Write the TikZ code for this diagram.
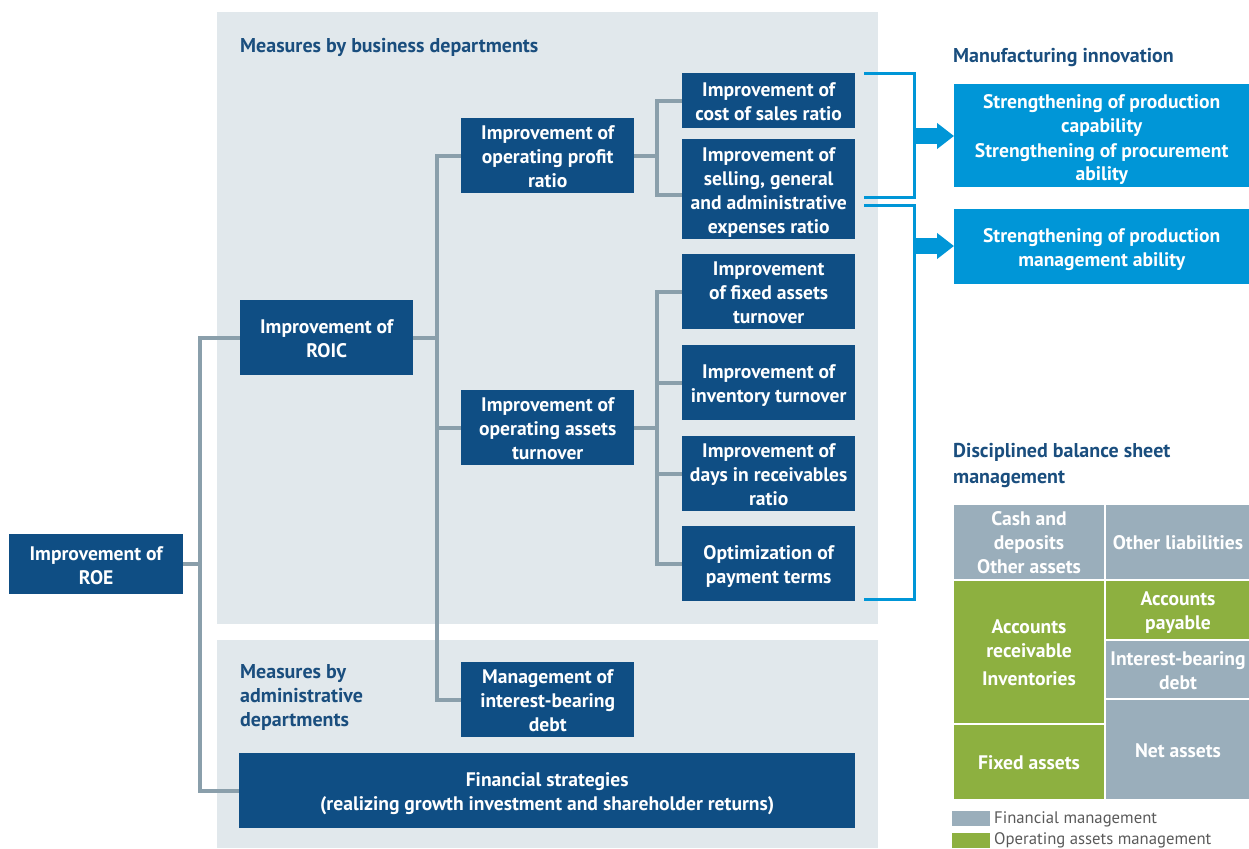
\documentclass[tikz,border=0pt]{standalone}
\usepackage{fontspec}
\setmainfont{PT Sans}
\usetikzlibrary{arrows.meta,calc}

\definecolor{panel}{HTML}{E1E8EC}
\definecolor{navy}{HTML}{0F4E84}
\definecolor{headblue}{HTML}{1A4E7E}
\definecolor{linkgrey}{HTML}{8A9FAB}
\definecolor{brightblue}{HTML}{0096D7}
\definecolor{fincell}{HTML}{9AAEBB}
\definecolor{opcell}{HTML}{8DB040}
\definecolor{legendtext}{HTML}{5A5A5A}

\newcommand{\boxfont}{\bfseries\fontsize{19.6}{24}\selectfont}
% centred lines, set slightly below the optical middle of their box
\newcommand{\lines}[2][3pt]{\raisebox{-#1}[\height][\depth]{%
  \begin{tabular}{@{}c@{}}#2\end{tabular}}}

\tikzset{
  box/.style={fill=navy, text=white, font=\boxfont,
    inner sep=0pt, anchor=north west},
  bluebox/.style={box, fill=brightblue},
  heading/.style={text=headblue, font=\bfseries\fontsize{20}{26}\selectfont,
    align=left, inner sep=0pt},
  conn/.style={draw=linkgrey, line width=4pt},
  bracket/.style={draw=brightblue, line width=3pt},
  bigarrow/.style={draw=brightblue, line width=16pt,
    -{Triangle[length=17pt,width=25pt]}},
  cell/.style={draw=white, line width=2pt, inner sep=0pt, anchor=north west,
    text=white, font=\boxfont},
  legendlabel/.style={text=legendtext, font=\fontsize{16.7}{20}\selectfont,
    anchor=west, inner sep=0pt}
}

\begin{document}
\begin{tikzpicture}[x=1pt,y=-1pt]
\useasboundingbox (0,0) rectangle (1249,848);

% background panels
\fill[panel] (217,12) rectangle (878,624);
\fill[panel] (217,640) rectangle (878,848);

% panel headings
\node[heading, anchor=west] (hbus) at (240,47) {Measures by business departments};
\node[heading, anchor=north west, font=\bfseries\fontsize{20}{24}\selectfont]
  (hadm) at (240,664) {Measures by\\administrative\\departments};

% tree nodes
\node[box, minimum width=174pt, minimum height=60pt] (roe) at (9,534) {\lines{Improvement of\\ROE}};
\node[box, minimum width=173pt, minimum height=75pt] (roic) at (240,300) {\lines{Improvement of\\ROIC}};
\node[box, minimum width=173pt, minimum height=75pt] (opp) at (461,118) {\lines{Improvement of\\operating profit\\ratio}};
\node[box, minimum width=173pt, minimum height=75pt] (opa) at (461,390) {\lines{Improvement of\\operating assets\\turnover}};
\node[box, minimum width=173pt, minimum height=75pt] (ibd) at (461,662) {\lines{Management of\\interest-bearing\\debt}};
\node[box, minimum width=173pt, minimum height=55pt] (cost) at (682,73) {\lines{Improvement of\\cost of sales ratio}};
\node[box, minimum width=173pt, minimum height=100pt] (sga) at (682,139) {\lines{Improvement of\\selling, general\\and administrative\\expenses ratio}};
\node[box, minimum width=173pt, minimum height=75pt] (fat) at (682,254) {\lines{Improvement\\of fixed assets\\turnover}};
\node[box, minimum width=173pt, minimum height=75pt] (inv) at (682,345) {\lines{Improvement of\\inventory turnover}};
\node[box, minimum width=173pt, minimum height=75pt] (days) at (682,436) {\lines{Improvement of\\days in receivables\\ratio}};
\node[box, minimum width=173pt, minimum height=75pt] (pay) at (682,526) {\lines{Optimization of\\payment terms}};
\node[box, minimum width=616pt, minimum height=75pt] (fin) at (239,753) {\lines{Financial strategies\\(realizing growth investment and shareholder returns)}};

% tree connectors
\draw[conn] (roe.east) -- ++(17,0) |- (roic.west);
\draw[conn] (roe.east) -- ++(17,0) |- (fin.west);
\draw[conn] (roic.east) -- ++(24,0) |- (opp.west);
\draw[conn] (roic.east) -- ++(24,0) |- (opa.west);
\draw[conn] (roic.east) -- ++(24,0) |- (ibd.west);
\draw[conn] (opp.east) -- ++(23,0) |- (cost.west);
\draw[conn] (opp.east) -- ++(23,0) |- ([yshift=-6pt]sga.west);
\draw[conn] (opa.east) -- ++(23,0) |- (fat.west);
\draw[conn] (opa.east) -- ++(23,0) |- (inv.west);
\draw[conn] (opa.east) -- ++(23,0) |- (days.west);
\draw[conn] (opa.east) -- ++(23,0) |- (pay.west);

% manufacturing innovation
\node[heading, anchor=west] (hmfg) at (953,58) {Manufacturing innovation};
\node[bluebox, minimum width=295pt, minimum height=103pt] (mfg1) at (954,84)
  {\lines[4.5pt]{Strengthening of production\\capability\\Strengthening of procurement\\ability}};
\node[bluebox, minimum width=295pt, minimum height=75pt] (mfg2) at (954,209)
  {\lines{Strengthening of production\\management ability}};

% brackets and arrows
\coordinate (b1t) at (864,74);
\coordinate (b1b) at (864,197);
\coordinate (b2t) at (864,205);
\coordinate (b2b) at (864,599);
\coordinate (b1m) at (914,136);
\coordinate (b2m) at (914,246);
\draw[bracket] (b1t) -- ++(50,0) |- (b1b);
\draw[bracket] (b2t) -- ++(50,0) |- (b2b);
\draw[bigarrow] (b1m) -- (b1m -| mfg1.west);
\draw[bigarrow] (b2m) -- (b2m -| mfg2.west);

% balance sheet
\node[heading, anchor=north west] (hbal) at (953,443) {Disciplined balance sheet\\management};
\node[cell, fill=fincell, minimum width=152pt, minimum height=76pt] (cash) at (952,503) {\lines{Cash and\\deposits\\Other assets}};
\node[cell, fill=opcell, minimum width=152pt, minimum height=144pt] (arinv) at (952,579) {\lines{Accounts\\receivable\\[4pt]Inventories}};
\node[cell, fill=opcell, minimum width=152pt, minimum height=76pt] (fixed) at (952,723) {\lines{Fixed assets}};
\node[cell, fill=fincell, minimum width=146pt, minimum height=76pt] (oliab) at (1104,503) {\lines{Other liabilities}};
\node[cell, fill=opcell, minimum width=146pt, minimum height=60pt] (apay) at (1104,579) {\lines{Accounts\\payable}};
\node[cell, fill=fincell, minimum width=146pt, minimum height=59pt] (ibdebt) at (1104,639) {\lines{Interest-bearing\\debt}};
\node[cell, fill=fincell, minimum width=146pt, minimum height=101pt] (net) at (1104,698) {\lines{Net assets}};

% legend
\node[fill=fincell, minimum width=38pt, minimum height=15pt, inner sep=0pt, anchor=north west] (swfin) at (952,811) {};
\node[fill=opcell, minimum width=38pt, minimum height=15pt, inner sep=0pt, anchor=north west] (swop) at (952,833) {};
\node[legendlabel] (lfin) at (994,819) {Financial management};
\node[legendlabel] (lop) at (994,840) {Operating assets management};
\end{tikzpicture}
\end{document}
